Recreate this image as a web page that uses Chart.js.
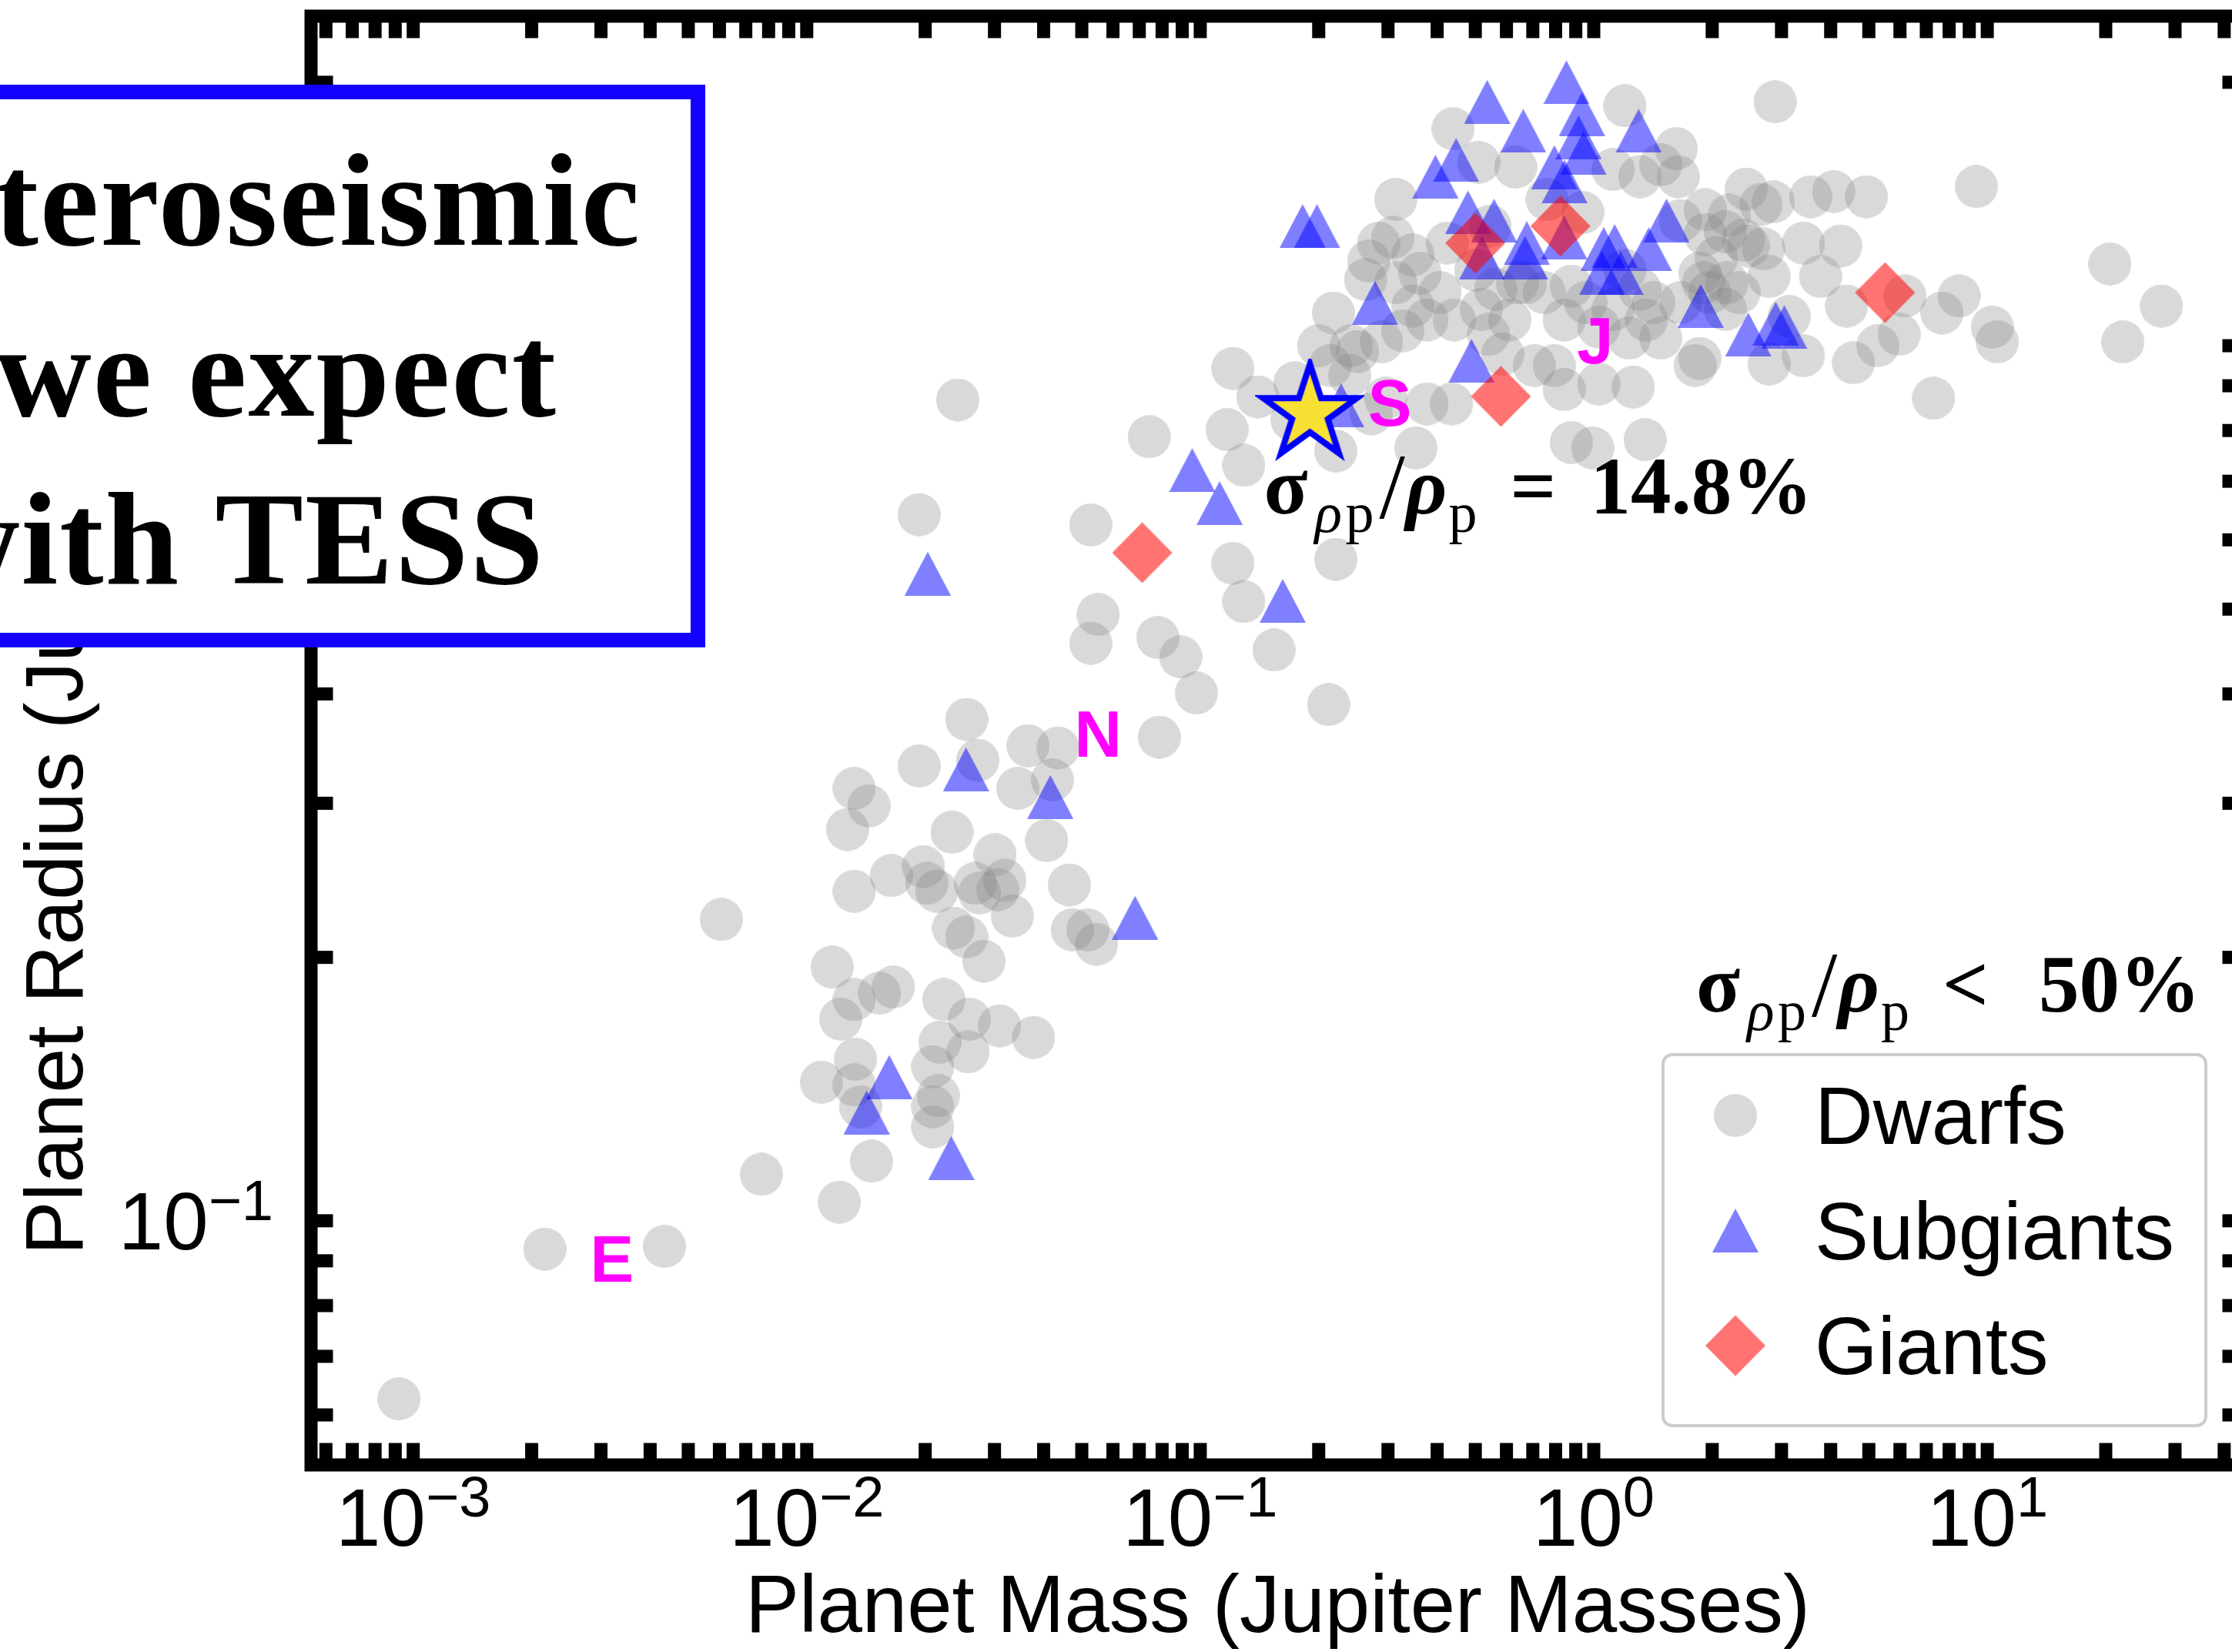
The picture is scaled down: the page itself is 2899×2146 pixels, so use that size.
<!DOCTYPE html>
<html>
<head>
<meta charset="utf-8">
<title>Planet mass vs radius</title>
<script src="https://cdn.jsdelivr.net/npm/chart.js@4.4.1/dist/chart.umd.min.js"></script>
<style>
    html, body { margin: 0; padding: 0; background: #ffffff; overflow: hidden; }
    #wrap { position: relative; width: 2935px; height: 2146px; }
</style>
</head>
<body>
<div id="wrap"><canvas id="massRadiusChart" width="2935" height="2146"></canvas></div>
<script>
// Mass-radius diagram of known transiting planets, split by host star class

const SANS = '"Liberation Sans", Arial, sans-serif';
const SERIF = '"Liberation Serif", "Times New Roman", serif';

const COLORS = {
    dwarf: 'rgba(128, 128, 128, 0.3)',
    subgiant: 'rgba(0, 0, 255, 0.5)',
    giant: 'rgba(255, 0, 0, 0.55)',
    starFill: '#f8e133',
    starEdge: '#0000ff',
    planet: '#ff00ff',
    text: '#000000',
    boxEdge: '#1400ff',
    legendEdge: '#cccccc'
};

// axis limits (Jupiter masses / Jupiter radii)
const X_MIN = 5.5e-4;
const X_MAX = 45;
const Y_MIN = 0.0526;
const Y_MAX = 2.38;

// labelled decades
const X_DECADES = [-3, -2, -1, 0, 1];
const Y_DECADES = [-1, 0];

// planets around dwarfs
const DWARF_MASS = [
    0.00092, 0.00216, 0.00435, 0.00767, 0.0121, 0.0146, 0.00607, 0.0137, 0.0209, 0.0209,
    0.0109, 0.0132, 0.0209, 0.0257, 0.0216, 0.0133, 0.0218, 0.0377, 0.0309, 0.0259,
    0.0223, 0.0122, 0.0153, 0.0166, 0.0132, 0.0116, 0.0282, 0.0255, 0.0236, 0.0333,
    0.0473, 0.0518, 0.0545, 0.0465, 0.0132, 0.0164, 0.0198, 0.0202, 0.0214, 0.0268,
    0.0275, 0.0301, 0.0319, 0.0306, 0.0127, 0.0144, 0.0132, 0.0234, 0.0407, 0.0344,
    0.0421, 0.0193, 0.0272, 0.0365, 0.0435, 0.0255, 0.0787, 0.0978,
    0.0242, 0.0742, 0.0193, 0.0527, 0.121, 0.140, 0.117, 0.129, 0.174, 0.200,
    0.251, 0.171, 0.221, 0.272, 0.240, 0.121, 0.129, 0.221, 0.154, 0.212,
    0.0550, 0.0527, 0.0780, 0.0892,
    0.439, 1.20, 2.89, 1.62, 1.48, 1.31, 1.64, 0.314, 0.510, 0.633,
    1.12, 2.44, 2.66, 1.92, 1.92, 1.66, 2.21, 2.40, 2.70, 2.05,
    1.86, 2.18, 1.66, 2.34, 1.97, 0.284, 0.309, 0.347, 0.268, 0.263,
    0.314, 0.362, 0.407, 0.347, 0.442, 0.377, 0.327, 0.289, 0.242,
    0.214, 0.540, 0.612, 0.706, 0.794, 0.587, 0.518, 0.563, 0.748, 0.639,
    0.877, 0.954, 0.841, 1.03, 1.12, 1.31, 1.36, 1.23, 1.48, 1.03,
    1.26, 0.841, 1.81, 0.877, 0.994, 1.35, 0.435, 0.377, 0.296,
    0.353,
    9.38, 20.5, 27.7, 22.1, 7.30, 10.6, 10.3, 8.48, 7.67, 6.18,
    5.97, 5.27, 4.39, 3.77, 4.24, 3.41, 4.93, 4.07, 3.56, 2.86,
    2.47, 2.79, 3.14, 2.79, 1.86, 2.16, 1.90, 2.16, 0.501, 0.671,
    1.42, 1.20, 0.761, 0.938, 0.424, 0.545, 0.218, 3.41, 4.57
];
const DWARF_RADIUS = [
    0.0626, 0.0928, 0.0935, 0.113, 0.105, 0.117, 0.221, 0.135, 0.135, 0.128,
    0.144, 0.143, 0.150, 0.156, 0.139, 0.153, 0.160, 0.162, 0.167, 0.170,
    0.179, 0.170, 0.182, 0.185, 0.179, 0.195, 0.198, 0.211, 0.216, 0.223,
    0.215, 0.215, 0.207, 0.242, 0.238, 0.248, 0.254, 0.243, 0.238, 0.243,
    0.237, 0.262, 0.245, 0.239, 0.280, 0.298, 0.312, 0.278, 0.272, 0.312,
    0.319, 0.331, 0.336, 0.349, 0.347, 0.374, 0.357, 0.401,
    0.867, 0.787, 0.641, 0.624, 0.942, 0.874, 0.802, 0.730, 0.907, 1.00,
    0.985, 0.823, 0.758, 0.836, 0.925, 0.564, 0.510, 0.570, 0.449, 0.389,
    0.493, 0.457, 0.464, 0.441,
    1.77, 1.88, 1.90, 1.68, 1.61, 1.56, 1.56, 1.47, 1.62, 1.60,
    1.59, 1.51, 1.45, 1.43, 1.34, 1.39, 1.41, 1.32, 1.29, 1.26,
    1.21, 1.18, 1.12, 1.15, 1.15, 1.31, 1.33, 1.27, 1.25, 1.19,
    1.18, 1.21, 1.15, 1.11, 1.07, 1.07, 1.04, 1.01, 1.00,
    0.949, 1.03, 1.07, 0.949, 0.949, 0.978, 1.10, 1.16, 1.15, 1.18,
    1.17, 1.12, 1.07, 1.05, 1.10, 1.16, 1.07, 1.02, 1.02, 0.904,
    0.897, 0.891, 0.949, 0.775, 0.764, 0.781, 0.858, 0.858, 0.871,
    0.764,
    1.52, 1.24, 1.11, 1.01, 0.871, 1.01, 1.05, 1.14, 1.09, 1.14,
    1.03, 1.00, 1.11, 1.20, 1.30, 1.31, 1.48, 1.50, 1.48, 1.46,
    1.30, 1.20, 1.08, 0.953, 0.967, 1.10, 1.18, 1.35, 1.22, 1.18,
    1.12, 1.22, 1.47, 1.42, 1.31, 1.37, 1.09, 0.974, 0.956
];

// planets around subgiants
const SUBGIANT_MASS = [
    0.852, 0.536, 0.662, 0.933, 0.915, 1.30, 0.447, 0.396, 0.794, 0.843,
    0.942, 0.198, 0.182, 0.479, 0.558, 0.676, 0.669, 0.520, 1.06, 1.13,
    1.05, 1.17, 1.38, 1.53, 0.841, 0.278, 1.87, 2.47, 2.90, 3.05,
    0.489, 0.228, 0.0954, 0.112, 0.0203, 0.162, 0.0254, 0.0416, 0.0683, 0.0162,
    0.0142, 0.0233
];
const SUBGIANT_RADIUS = [
    2.00, 1.90, 1.76, 1.84, 1.73, 1.76, 1.63, 1.56, 1.60, 1.54,
    1.66, 1.37, 1.37, 1.42, 1.39, 1.31, 1.26, 1.26, 1.29, 1.30,
    1.21, 1.21, 1.29, 1.39, 1.33, 1.12, 1.11, 1.03, 1.06, 1.05,
    0.961, 0.855, 0.721, 0.661, 0.549, 0.511, 0.328, 0.305, 0.222, 0.146,
    0.133, 0.118
];

// planets around red giants
const GIANT_MASS = [0.500, 0.823, 0.581, 5.50, 0.0712];
const GIANT_RADIUS = [1.31, 1.37, 0.875, 1.15, 0.580];

// highlighted target
const TARGET_MASS = 0.190;
const TARGET_RADIUS = 0.837;
const TARGET_NOTE = '14.8%';
const SAMPLE_CUT = '50%';

// solar system reference letters
const PLANET_NAMES = ['E', 'N', 'S', 'J'];
const PLANET_MASS = [0.0032, 0.0550, 0.303, 1.008];
const PLANET_RADIUS = [0.0906, 0.360, 0.861, 1.014];

const CALLOUT_LINES = ['teroseismic', 'we expect', 'with TESS'];

const LEGEND_ORDER = ['Dwarfs', 'Subgiants', 'Giants'];

// ---- drawing constants ----
const FRAME = { spine: 17, tickLength: 20, tickWidth: 17 };
const LEGEND = { left: 2160, top: 1370, width: 705, height: 482, markerX: 2254, textX: 2357, firstRow: 1449, rowStep: 149.5 };

function toPoints(xs, ys) {
    return xs.map((v, i) => ({ x: v, y: ys[i] }));
}

// pre-rendered marker sprites, used as pointStyle
function markerCanvas(w, h, paint) {
    const c = document.createElement('canvas');
    c.width = w;
    c.height = h;
    paint(c.getContext('2d'), w, h);
    return c;
}

const DWARF_MARK = markerCanvas(56, 56, (g, w, h) => {
    g.fillStyle = COLORS.dwarf;
    g.beginPath();
    g.ellipse(w / 2, h / 2, w / 2, h / 2, 0, 0, Math.PI * 2);
    g.fill();
});

const SUBGIANT_MARK = markerCanvas(60, 57, (g, w, h) => {
    g.fillStyle = COLORS.subgiant;
    g.beginPath();
    g.moveTo(w / 2, 0);
    g.lineTo(w, h);
    g.lineTo(0, h);
    g.closePath();
    g.fill();
});

const GIANT_MARK = markerCanvas(78, 79, (g, w, h) => {
    g.fillStyle = COLORS.giant;
    g.beginPath();
    g.moveTo(w / 2, 0);
    g.lineTo(w, h / 2);
    g.lineTo(w / 2, h);
    g.lineTo(0, h / 2);
    g.closePath();
    g.fill();
});

const STAR_MARK = markerCanvas(142, 142, (g, w, h) => {
    const R = 64, r = R * 0.382, cx = w / 2, cy = h / 2;
    g.beginPath();
    for (let i = 0; i < 10; i++) {
        const rad = (i % 2 === 0) ? R : r;
        const a = -Math.PI / 2 + i * Math.PI / 5;
        const px = cx + rad * Math.cos(a), py = cy + rad * Math.sin(a);
        if (i === 0) g.moveTo(px, py); else g.lineTo(px, py);
    }
    g.closePath();
    g.fillStyle = COLORS.starFill;
    g.fill();
    g.lineWidth = 8;
    g.lineJoin = 'miter';
    g.strokeStyle = COLORS.starEdge;
    g.stroke();
});

// ticks at every 1..9 x 10^n inside the range
function logTicks(scale) {
    const ticks = [];
    const lo = Math.floor(Math.log10(scale.min));
    const hi = Math.ceil(Math.log10(scale.max));
    for (let e = lo; e <= hi; e++) {
        for (let k = 1; k < 10; k++) {
            const v = parseFloat((k * Math.pow(10, e)).toPrecision(6));
            if (v >= scale.min && v <= scale.max) ticks.push({ value: v, major: k === 1 });
        }
    }
    scale.ticks = ticks;
}

function drawPower(ctx, exp, x, baseline, align) {
    const base = '10';
    const sup = exp < 0 ? '\u2212' + (-exp) : String(exp);
    ctx.font = `105px ${SANS}`;
    const wb = ctx.measureText(base).width;
    ctx.font = `74px ${SANS}`;
    const ws = ctx.measureText(sup).width;
    const left = align === 'right' ? x - wb - ws : x - (wb + ws) / 2;
    ctx.textAlign = 'left';
    ctx.textBaseline = 'alphabetic';
    ctx.font = `105px ${SANS}`;
    ctx.fillText(base, left, baseline);
    ctx.font = `74px ${SANS}`;
    ctx.fillText(sup, left + wb, baseline - 38);
}

function drawFrame(chart) {
    const { ctx, chartArea: a, scales: { x, y } } = chart;
    const half = FRAME.spine / 2;
    const len = half + FRAME.tickLength;
    const tw = FRAME.tickWidth;
    ctx.save();
    ctx.fillStyle = COLORS.text;
    // ticks point inwards on all four sides
    x.ticks.forEach(t => {
        const px = x.getPixelForValue(t.value);
        ctx.fillRect(px - tw / 2, a.top, tw, len);
        ctx.fillRect(px - tw / 2, a.bottom - len, tw, len);
    });
    y.ticks.forEach(t => {
        const py = y.getPixelForValue(t.value);
        ctx.fillRect(a.left, py - tw / 2, len, tw);
        ctx.fillRect(a.right - len, py - tw / 2, len, tw);
    });
    ctx.lineWidth = FRAME.spine;
    ctx.strokeStyle = COLORS.text;
    ctx.lineJoin = 'miter';
    ctx.strokeRect(a.left, a.top, a.right - a.left, a.bottom - a.top);

    X_DECADES.forEach(e => drawPower(ctx, e, x.getPixelForValue(Math.pow(10, e)), 2008, 'center'));
    Y_DECADES.forEach(e => drawPower(ctx, e, 355, y.getPixelForValue(Math.pow(10, e)) + 37, 'right'));
    ctx.restore();
}

// sigma_rho_p / rho_p expression, laid out piece by piece
function drawDensityNote(ctx, x0, base, relation, value, valueDx) {
    const parts = [
        { t: '\u03C3', f: `bold 105px ${SERIF}`, dx: 0, dy: 0 },
        { t: '\u03C1', f: `italic 74px ${SERIF}`, dx: 66, dy: 24 },
        { t: 'p', f: `74px ${SERIF}`, dx: 106, dy: 24 },
        { t: '/', f: `120px ${SERIF}`, dx: 150, dy: 6 },
        { t: '\u03C1', f: `bold italic 105px ${SERIF}`, dx: 184, dy: 0 },
        { t: 'p', f: `74px ${SERIF}`, dx: 240, dy: 24 },
        { t: relation, f: `bold 105px ${SERIF}`, dx: 320, dy: 0 },
        { t: value, f: `bold 105px ${SERIF}`, dx: valueDx, dy: 0 }
    ];
    ctx.save();
    ctx.fillStyle = COLORS.text;
    ctx.textAlign = 'left';
    ctx.textBaseline = 'alphabetic';
    parts.forEach(p => {
        ctx.font = p.f;
        ctx.fillText(p.t, x0 + p.dx, base + p.dy);
    });
    ctx.restore();
}

function drawLegend(chart) {
    const { ctx } = chart;
    const L = LEGEND;
    ctx.save();
    ctx.beginPath();
    ctx.roundRect(L.left, L.top, L.width, L.height, 12);
    ctx.fillStyle = 'rgba(255, 255, 255, 0.8)';
    ctx.fill();
    ctx.lineWidth = 4;
    ctx.strokeStyle = COLORS.legendEdge;
    ctx.stroke();

    ctx.font = `105px ${SANS}`;
    ctx.fillStyle = COLORS.text;
    ctx.textAlign = 'left';
    ctx.textBaseline = 'alphabetic';
    LEGEND_ORDER.forEach((label, i) => {
        const ds = chart.data.datasets.find(d => d.label === label);
        const img = ds.pointStyle;
        const cy = L.firstRow + i * L.rowStep;
        ctx.drawImage(img, L.markerX - img.width / 2, cy - img.height / 2);
        ctx.fillText(label, L.textX, cy + 37);
    });
    ctx.restore();

    drawDensityNote(ctx, 2203, 1314, '<', SAMPLE_CUT, 445);
}

function drawCallout(ctx) {
    const right = [833, 724, 708];
    const base = [318, 540, 758];
    ctx.save();
    ctx.fillStyle = '#ffffff';
    ctx.fillRect(-60, 110, 976, 731);
    ctx.lineWidth = 19;
    ctx.strokeStyle = COLORS.boxEdge;
    ctx.strokeRect(-60, 119.5, 966.5, 712);
    ctx.fillStyle = COLORS.text;
    ctx.font = `bold 172px ${SERIF}`;
    ctx.letterSpacing = '2px';
    ctx.textAlign = 'right';
    ctx.textBaseline = 'alphabetic';
    CALLOUT_LINES.forEach((line, i) => ctx.fillText(line, right[i], base[i]));
    ctx.restore();
}

const annotations = {
    id: 'annotations',
    afterDatasetsDraw(chart) {
        const { ctx, scales: { x, y } } = chart;
        ctx.save();
        ctx.fillStyle = COLORS.planet;
        ctx.font = `bold 85px ${SANS}`;
        ctx.textAlign = 'center';
        ctx.textBaseline = 'alphabetic';
        PLANET_NAMES.forEach((name, i) => {
            ctx.fillText(name, x.getPixelForValue(PLANET_MASS[i]), y.getPixelForValue(PLANET_RADIUS[i]) + 30);
        });
        ctx.restore();

        // precision label under the target star
        drawDensityNote(ctx, x.getPixelForValue(0.145), y.getPixelForValue(0.643), '=', TARGET_NOTE, 424);
    },
    afterDraw(chart) {
        drawFrame(chart);
        drawLegend(chart);
        drawCallout(chart.ctx);
    }
};

function axisOptions(min, max, title, fit, padding) {
    return {
        type: 'logarithmic',
        min: min,
        max: max,
        bounds: 'data',
        afterBuildTicks: logTicks,
        afterFit: fit,
        grid: { display: false },
        border: { display: false },
        ticks: { display: false },
        title: {
            display: true,
            text: title,
            color: COLORS.text,
            font: { family: SANS, size: 105, lineHeight: 1 },
            padding: padding
        }
    };
}

const ctx = document.getElementById('massRadiusChart').getContext('2d');

new Chart(ctx, {
    type: 'scatter',
    data: {
        datasets: [
            { label: 'Dwarfs', data: toPoints(DWARF_MASS, DWARF_RADIUS), pointStyle: DWARF_MARK, pointRadius: 28, order: 4 },
            { label: 'Subgiants', data: toPoints(SUBGIANT_MASS, SUBGIANT_RADIUS), pointStyle: SUBGIANT_MARK, pointRadius: 29, order: 3 },
            { label: 'Giants', data: toPoints(GIANT_MASS, GIANT_RADIUS), pointStyle: GIANT_MARK, pointRadius: 39, order: 2 },
            { label: 'Target', data: [{ x: TARGET_MASS, y: TARGET_RADIUS }], pointStyle: STAR_MARK, pointRadius: 64, order: 1 }
        ]
    },
    options: {
        responsive: false,
        animation: false,
        events: [],
        devicePixelRatio: 1,
        layout: { autoPadding: false, padding: { top: 21, right: 20, left: 0, bottom: 0 } },
        plugins: {
            legend: { display: false },
            tooltip: { enabled: false }
        },
        scales: {
            x: axisOptions(X_MIN, X_MAX, 'Planet Mass (Jupiter Masses)', s => { s.height = 243; }, { top: 0, bottom: 2 }),
            y: axisOptions(Y_MIN, Y_MAX, 'Planet Radius (Jupiter Radii)', s => { s.width = 404; }, { top: 26, bottom: 0 })
        }
    },
    plugins: [annotations]
});
</script>
</body>
</html>
